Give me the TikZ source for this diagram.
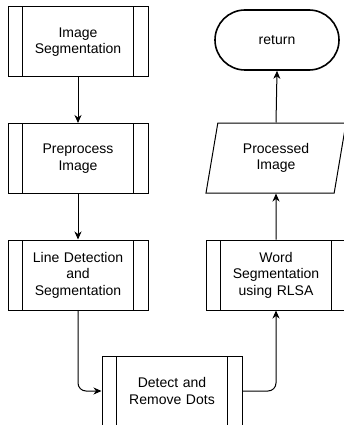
\documentclass[tikz,border=0pt]{standalone}
\usepackage{fontspec}
\setmainfont{Liberation Sans}
\usetikzlibrary{arrows.meta,shapes.geometric}
\tikzset{
  procbox/.style={draw, line width=1pt, minimum width=140pt, minimum height=70pt,
    align=center, inner sep=0pt, text width=100pt,
    path picture={
      \draw[line width=1pt] ([xshift=14.5pt]path picture bounding box.north west) -- ([xshift=14.5pt]path picture bounding box.south west);
      \draw[line width=1pt] ([xshift=-14.5pt]path picture bounding box.north east) -- ([xshift=-14.5pt]path picture bounding box.south east);
    }},
  iobox/.style={draw, line width=1pt, trapezium, trapezium left angle=68.2, trapezium right angle=111.8,
    trapezium stretches body, minimum width=140pt, minimum height=70pt, align=center, inner sep=0pt},
  termbox/.style={draw, line width=1.6pt, rounded corners=30pt, minimum width=124pt, minimum height=60pt, align=center},
  arr/.style={line width=1pt, -{Stealth[length=8pt,width=7pt,inset=2.5pt]}},
  every node/.style={font=\fontsize{14}{16.5}\selectfont}
}
\begin{document}
\begin{tikzpicture}[x=1pt,y=-1pt]
\useasboundingbox (0,0) rectangle (344,425);
\node[procbox] (seg) at (78,42) {Image\\Segmentation};
\node[procbox] (pre) at (78,158.5) {Preprocess\\Image};
\node[procbox] (line) at (78,275) {Line Detection\\and\\Segmentation};
\node[procbox] (det) at (172,391) {Detect and\\Remove Dots};
\node[procbox] (word) at (276,275) {Word\\Segmentation\\using RLSA};
\node[iobox] (proc) at (276,158) {Processed\\Image};
\node[termbox] (ret) at (277,40) {return};
\draw[arr] (seg) -- (pre);
\draw[arr] (pre) -- (line);
\draw[arr, rounded corners=8pt] (line.south) |- (det.west);
\draw[arr, rounded corners=8pt] (det.east) -| (word.south);
\draw[arr] (word.north) -- (proc.south);
\draw[arr] (proc.north) -- (ret.south);
\end{tikzpicture}
\end{document}
